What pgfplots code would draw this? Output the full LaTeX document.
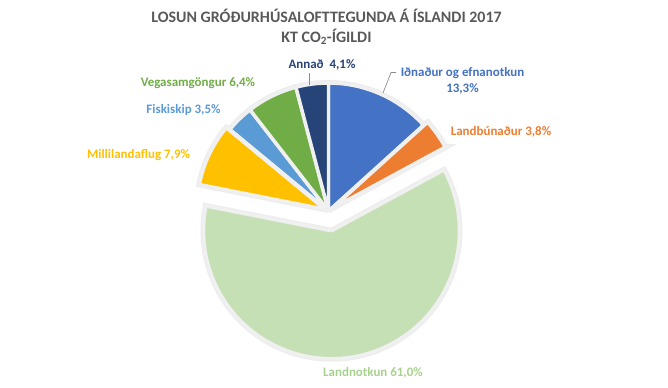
\documentclass[border=0pt]{standalone}
\usepackage{fontspec}
\setmainfont{Carlito}
\usepackage{pgfplots}
\pgfplotsset{compat=1.18}
\definecolor{cInd}{HTML}{4472C4}
\definecolor{cLbu}{HTML}{ED7D31}
\definecolor{cLnf}{HTML}{C5E0B4}
\definecolor{cLnt}{HTML}{A9D18E}
\definecolor{cMil}{HTML}{FFC000}
\definecolor{cFis}{HTML}{5B9BD5}
\definecolor{cVeg}{HTML}{70AD47}
\definecolor{cAnn}{HTML}{264478}
\definecolor{cTit}{HTML}{595959}
\def\pcx{328.5}
\def\pcy{211}
\def\pR{128}
% #1 start (%), #2 value (%), #3 explode (px), #4 plot options
\newcommand\slice[4]{%
 \pgfmathsetmacro\ta{3.6*#1}%
 \pgfmathsetmacro\tb{3.6*(#1+#2)}%
 \pgfmathsetmacro\tm{(\ta+\tb)/2}%
 \pgfmathsetmacro\ox{\pcx+#3*sin(\tm)}%
 \pgfmathsetmacro\oy{\pcy-#3*cos(\tm)}%
 \pgfmathsetmacro\st{(\tb-\ta)/80}%
 \pgfmathsetmacro\tc{\ta+\st}%
 \pgfmathsetmacro\tz{\ta-0.5}%
 \pgfmathsetmacro\tw{\tb+0.5}%
 \pgfmathsetmacro\tlo{\ta-0.1}%
 \pgfmathsetmacro\thi{\tb+0.1}%
 \edef\tmp{\noexpand\addplot[#4, samples at={\tz,\ta,\tc,...,\tb,\tb,\tw}]
  ({\ox+\pR*ifthenelse(or(x<\tlo,x>\thi),0,1)*sin(x)},
   {\oy-\pR*ifthenelse(or(x<\tlo,x>\thi),0,1)*cos(x)});}%
 \tmp}
\tikzset{lbl/.style={inner sep=0pt, font=\fontsize{13}{16}\selectfont\bfseries}}
\begin{document}
\begin{tikzpicture}
\begin{axis}[name=ax, scale only axis, width=668bp, height=388bp,
  xmin=0, xmax=668, ymin=0, ymax=388, y dir=reverse,
  hide axis, clip=false]
% shadows
\slice{0}{13.3}{0}{draw=black!7, line width=6}
\slice{13.3}{3.8}{5}{draw=black!7, line width=6}
\slice{17.1}{61.0}{20}{draw=black!7, line width=6}
\slice{78.1}{7.9}{4}{draw=black!7, line width=6}
\slice{86.0}{3.5}{0}{draw=black!7, line width=6}
\slice{89.5}{6.4}{0}{draw=black!7, line width=6}
\slice{95.9}{4.1}{0}{draw=black!7, line width=6}
% slices
\slice{0}{13.3}{0}{fill=cInd, draw=black!6, line width=3.5}
\slice{13.3}{3.8}{5}{fill=cLbu, draw=black!6, line width=3.5}
\slice{17.1}{61.0}{20}{fill=cLnf, draw=black!6, line width=3.5}
\slice{78.1}{7.9}{4}{fill=cMil, draw=black!6, line width=3.5}
\slice{86.0}{3.5}{0}{fill=cFis, draw=black!6, line width=3.5}
\slice{89.5}{6.4}{0}{fill=cVeg, draw=black!6, line width=3.5}
\slice{95.9}{4.1}{0}{fill=cAnn, draw=black!6, line width=3.5}
% leader lines
\draw[black!45, line width=0.7pt] (axis cs:396,72.5) -- (axis cs:391,72.5) -- (axis cs:383,93);
\draw[black!45, line width=0.7pt] (axis cs:309.3,73) -- (axis cs:309.3,85);
% labels
\node[lbl, cInd, align=center] at (axis cs:462.5,81) {Iðnaður og efnanotkun\\13,3\%};
\node[lbl, cLbu] at (axis cs:501,131.5) {Landbúnaður 3,8\%};
\node[lbl, cLnt] at (axis cs:373,373) {Landnotkun 61,0\%};
\node[lbl, cMil] at (axis cs:138.5,155) {Millilandaflug 7,9\%};
\node[lbl, cFis] at (axis cs:183.5,110) {Fiskiskip 3,5\%};
\node[lbl, cVeg] at (axis cs:198,83) {Vegasamgöngur 6,4\%};
\node[lbl, cAnn] at (axis cs:322,64.5) {Annað\ \ 4,1\%};
\node[cTit, align=center, inner sep=0pt, font=\fontsize{16}{20}\selectfont\bfseries] at (axis cs:326.5,27)
 {LOSUN GRÓÐURHÚSALOFTTEGUNDA Á ÍSLANDI 2017\\KT CO\textsubscript{2}-ÍGILDI};
\end{axis}
\pgfresetboundingbox
\useasboundingbox (ax.south west) rectangle (ax.north east);
\end{tikzpicture}
\end{document}
